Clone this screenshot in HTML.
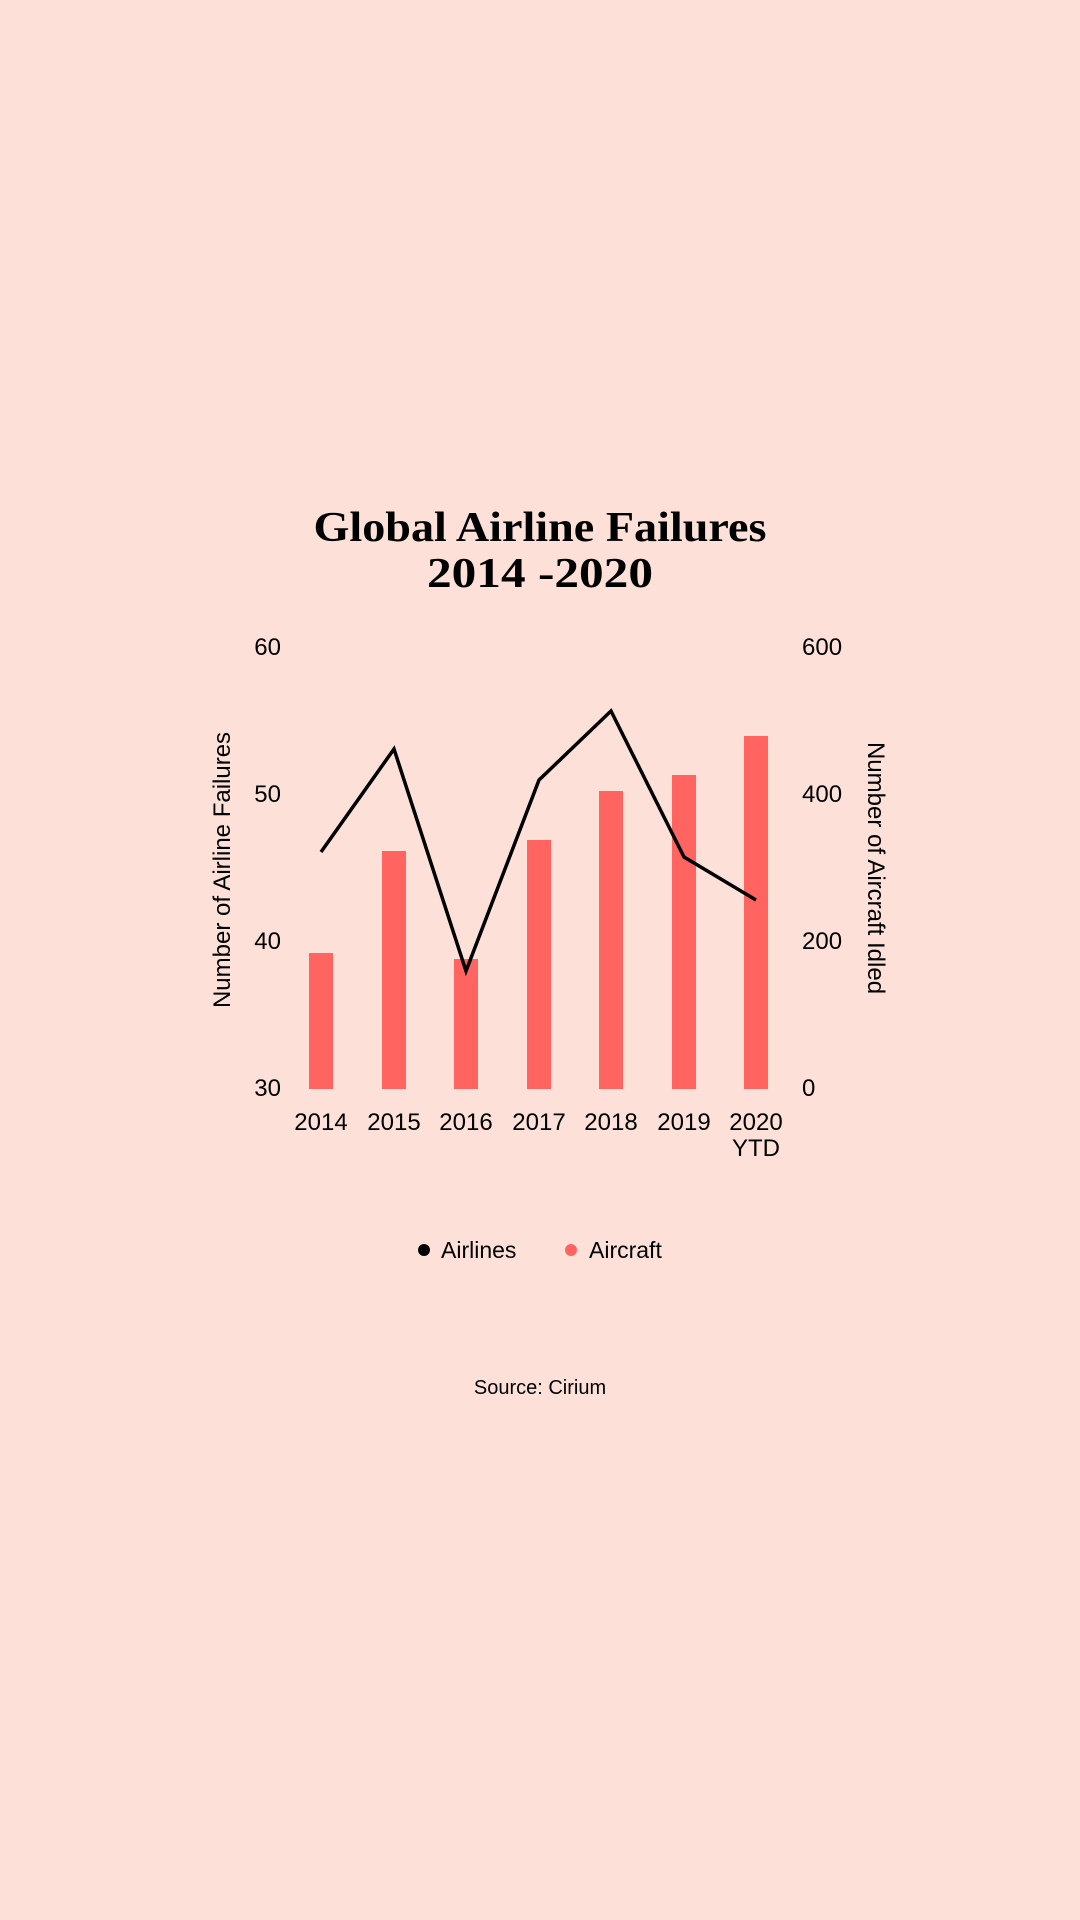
<!DOCTYPE html>
<html><head><style>
html,body{margin:0;padding:0;background:#fde1d9;}
body{width:1080px;height:1920px;position:relative;overflow:hidden;font-family:"Liberation Sans",sans-serif;color:#000;}
</style></head><body>
<svg width="1080" height="1920" style="position:absolute;left:0;top:0">
<text x="540" y="541" text-anchor="middle" font-family="Liberation Serif,serif" font-weight="bold" font-size="42" textLength="453" lengthAdjust="spacingAndGlyphs">Global Airline Failures</text>
<text x="540" y="587" text-anchor="middle" font-family="Liberation Serif,serif" font-weight="bold" font-size="42" textLength="226" lengthAdjust="spacingAndGlyphs">2014 -2020</text>
<g font-size="24" font-family="Liberation Sans,sans-serif">
<text x="281" y="655" text-anchor="end">60</text>
<text x="281" y="802" text-anchor="end">50</text>
<text x="281" y="949" text-anchor="end">40</text>
<text x="281" y="1096" text-anchor="end">30</text>
<text x="802" y="655">600</text>
<text x="802" y="802">400</text>
<text x="802" y="949">200</text>
<text x="802" y="1096">0</text>
<text transform="translate(230,870) rotate(-90)" text-anchor="middle">Number of Airline Failures</text>
<text transform="translate(868,868) rotate(90)" text-anchor="middle">Number of Aircraft Idled</text>
<g text-anchor="middle">
<text x="321" y="1130">2014</text><text x="394" y="1130">2015</text><text x="466" y="1130">2016</text>
<text x="539" y="1130">2017</text><text x="611" y="1130">2018</text><text x="684" y="1130">2019</text>
<text x="756" y="1130">2020</text><text x="756" y="1156">YTD</text>
</g>
</g>
<g fill="#ff6461">
<rect x="309" y="953" width="24" height="136"/>
<rect x="382" y="851" width="24" height="238"/>
<rect x="454" y="959" width="24" height="130"/>
<rect x="527" y="840" width="24" height="249"/>
<rect x="599" y="791" width="24" height="298"/>
<rect x="672" y="775" width="24" height="314"/>
<rect x="744" y="736" width="24" height="353"/>
</g>
<polyline points="321,852 394,749 466,971 539,780 611,711 684,857 756,900" fill="none" stroke="#000" stroke-width="3.5" stroke-linejoin="miter"/>
<circle cx="424" cy="1250" r="6" fill="#000"/>
<text x="441" y="1258" font-size="23">Airlines</text>
<circle cx="571" cy="1250" r="6" fill="#ff6461"/>
<text x="589" y="1258" font-size="23">Aircraft</text>
<text x="540" y="1394" font-size="20" text-anchor="middle">Source: Cirium</text>
</svg>
</body></html>
